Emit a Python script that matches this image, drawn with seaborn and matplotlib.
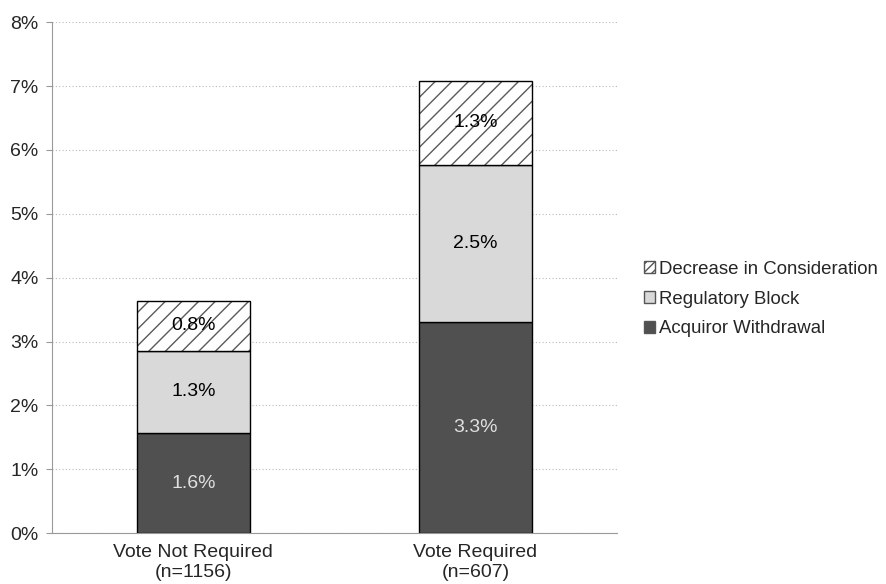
import pandas as pd
import seaborn as sns
import matplotlib.pyplot as plt
from matplotlib.patches import Patch

# values (percent of deals)
groups = ['Vote Not Required\n(n=1156)', 'Vote Required\n(n=607)']
acquiror_withdrawal = [1.57, 3.30]
regulatory_block = [1.29, 2.47]
decrease_consideration = [0.78, 1.31]
value_labels = {
    'Acquiror Withdrawal': ['1.6%', '3.3%'],
    'Regulatory Block': ['1.3%', '2.5%'],
    'Decrease in Consideration': ['0.8%', '1.3%'],
}
yticks = [0, 1, 2, 3, 4, 5, 6, 7, 8]

sns.set_style('white')
plt.rcParams['font.family'] = ['Liberation Sans', 'DejaVu Sans']
plt.rcParams['hatch.linewidth'] = 1.0

df = pd.DataFrame({
    'group': groups,
    'Acquiror Withdrawal': acquiror_withdrawal,
    'Regulatory Block': regulatory_block,
    'Decrease in Consideration': decrease_consideration,
})

fig = plt.figure(figsize=(8.86, 5.84), dpi=100)
ax = fig.add_axes([0.059, 0.087, 0.637, 0.875])

layers = [
    ('Acquiror Withdrawal', '#505050', None, '#e0e0e0'),
    ('Regulatory Block', '#d9d9d9', None, 'black'),
    ('Decrease in Consideration', 'white', '//', 'black'),
]

bottom = pd.Series([0.0] * len(df))
for name, color, hatch, txtcol in layers:
    if hatch:
        # hatch drawn in grey, outline drawn separately in black
        sns.barplot(data=df, x='group', y=name, bottom=bottom.values, color=color,
                    width=0.4, edgecolor='#5a5a5a', hatch=hatch, linewidth=0,
                    saturation=1, ax=ax)
        sns.barplot(data=df, x='group', y=name, bottom=bottom.values, color='black',
                    fill=False, width=0.4, edgecolor='black', linewidth=1.0, ax=ax)
    else:
        sns.barplot(data=df, x='group', y=name, bottom=bottom.values, color=color,
                    width=0.4, edgecolor='black', linewidth=1.0, saturation=1, ax=ax)
    for i, (b, v) in enumerate(zip(bottom, df[name])):
        ax.text(i, b + v / 2, value_labels[name][i], ha='center', va='center',
                fontsize=14, color=txtcol)
    bottom = bottom + df[name]

ax.set_ylim(0, 8)
ax.set_xlim(-0.5, 1.5)
ax.set_yticks(yticks)
ax.set_yticklabels([f'{t}%' for t in yticks], fontsize=14)
ax.tick_params(axis='x', labelsize=14, length=0, pad=8)
ax.tick_params(axis='y', length=4, color='#999999', left=True, pad=6)
ax.set_xlabel('')
ax.set_ylabel('')
ax.yaxis.grid(True, color='#bbbbbb', linestyle=(0, (1, 2)), linewidth=0.8)
ax.set_axisbelow(True)
for s in ['top', 'right']:
    ax.spines[s].set_visible(False)
ax.spines['left'].set_color('#999999')
ax.spines['bottom'].set_color('#999999')
ax.spines['left'].set_linewidth(0.8)
ax.spines['bottom'].set_linewidth(0.8)

handles = [
    Patch(facecolor='white', edgecolor='#555555', hatch='////', label='Decrease in Consideration'),
    Patch(facecolor='#d9d9d9', edgecolor='#555555', label='Regulatory Block'),
    Patch(facecolor='#505050', edgecolor='#555555', label='Acquiror Withdrawal'),
]
fig.legend(handles=handles, loc='upper left', bbox_to_anchor=(0.718, 0.566),
           frameon=False, fontsize=13.4, handlelength=0.6, handleheight=0.6,
           handletextpad=0.25, labelspacing=0.68, borderaxespad=0)

fig.savefig('out.png', dpi=100)
